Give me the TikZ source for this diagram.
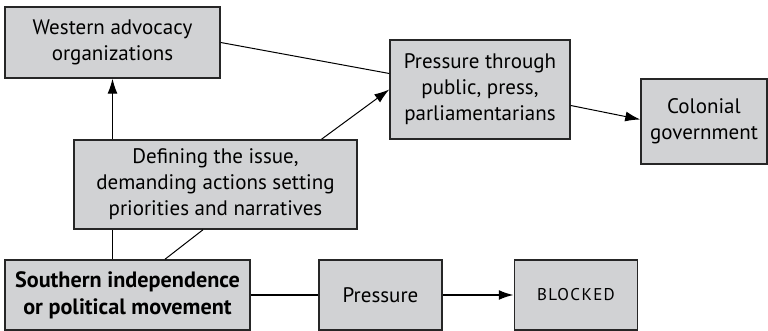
\documentclass[tikz,border=0pt]{standalone}
\usepackage{fontspec}
\setmainfont{PT Sans}
\usetikzlibrary{arrows.meta}
\definecolor{boxgray}{HTML}{D1D2D4}
\begin{document}
\begin{tikzpicture}[
          bx/.style={draw=black!85, fill=boxgray, line width=0.75pt, align=center,
            inner sep=0pt, font=\fontsize{10.5}{13}\selectfont},
          ln/.style={line width=0.5pt},
          ar/.style={line width=0.5pt, -{Latex[length=7.5pt, width=5pt]}},
          x=0.5pt,
          y=0.5pt,
        ]
      \useasboundingbox (0, 0) rectangle (768, 331);
      \node[bx, minimum width=107.5pt, minimum height=35.5pt] (west) at (112.5, 288.5) {Western advocacy\\organizations};
      \node[bx, minimum width=141.5pt, minimum height=44.5pt] (def) at (215.5, 146.5) {Defining the issue,\\demanding actions setting\\priorities and narratives};
      \node[bx, minimum width=122.5pt, minimum height=35pt, font=\fontsize{11.1}{13.5}\selectfont\bfseries] (south) at (127.5, 36) {Southern independence\\or political movement};
      \node[bx, minimum width=61.5pt, minimum height=35pt] (press) at (380.5, 36) {Pressure};
      \node[bx, minimum width=61.5pt, minimum height=35pt] (block) at (576, 36) {\addfontfeatures{LetterSpace=8}\fontsize{8.5}{10}\selectfont BLOCKED};
      \node[bx, minimum width=90pt, minimum height=49.5pt] (thru) at (480, 241.5) {Pressure through\\public, press,\\parliamentarians};
      \node[bx, minimum width=63pt, minimum height=42.5pt] (colo) at (704, 209.5) {Colonial\\government};
      \draw[ln] (west.east) -- ([yshift=8pt]thru.west);
      \draw[ar] (def.north -| west.south) -- (west.south);
      \draw[ar] ([xshift=53pt]def.north) -- (thru.west);
      \draw[ln] (south.north -| west.south) -- (def.south -| west.south);
      \draw[ln] ([xshift=18.75pt]south.north) -- ([xshift=-6.25pt]def.south);
      \draw[line width=1pt] (south.east) -- (press.west);
      \draw[line width=1pt, -{Latex[length=7.5pt, width=5pt]}] (press.east) -- (block.west);
      \draw[ar] ([yshift=-8pt]thru.east) -- ([yshift=1pt]colo.west);
    \end{tikzpicture}
\end{document}
